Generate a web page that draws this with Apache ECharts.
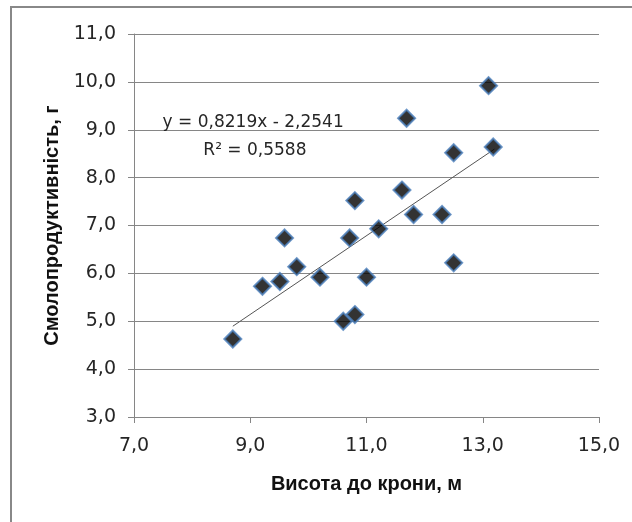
<!DOCTYPE html>
<html>
<head>
<meta charset="utf-8">
<script src="https://cdn.jsdelivr.net/npm/echarts@6/dist/echarts.min.js"></script>
<style>
html,body{margin:0;padding:0;background:#fff;}
#chart{width:632px;height:522px;}
</style>
</head>
<body>
<div id="chart"></div>
<script>
// Data
var xValues = [8.70, 9.21, 9.51, 9.59, 9.80, 10.20, 10.60, 10.71, 10.80, 10.80, 11.00, 11.21, 11.61, 11.69, 11.81, 12.30, 12.50, 12.50, 13.10, 13.18];
var yValues = [4.63, 5.73, 5.83, 6.74, 6.14, 5.92, 5.00, 6.74, 7.52, 5.14, 5.92, 6.93, 7.74, 9.24, 7.23, 7.23, 8.52, 6.22, 9.92, 8.64];
var trendSlope = 0.8219;
var trendIntercept = -2.2541;
var trendR2 = 0.5588;
var trendRangeX = [8.7, 13.2];
var xTicks = [7, 9, 11, 13, 15];
var yTicks = [3, 4, 5, 6, 7, 8, 9, 10, 11];
var xTitle = 'Висота до крони, м';
var yTitle = 'Смолопродуктивність, г';

function fmt(v){ return v.toFixed(1).replace('.', ','); }

var points = xValues.map(function(x, i){ return [x, yValues[i]]; });
var trend = trendRangeX.map(function(x){ return [x, trendSlope * x + trendIntercept]; });

var chart = echarts.init(document.getElementById('chart'), null, {renderer:'canvas'});
var numFont = 'DejaVu Sans';
var titleFont = 'Liberation Sans';
var option = {
  animation: false,
  backgroundColor: '#fff',
  grid: {left: 134, right: 33, top: 34, bottom: 105, containLabel: false},
  xAxis: {
    type: 'value', min: xTicks[0], max: xTicks[xTicks.length-1], interval: 2,
    name: xTitle, nameLocation: 'middle', nameGap: 57,
    nameTextStyle: {fontFamily: titleFont, fontSize: 20, fontWeight: 'bold', color: '#111'},
    axisLine: {show: true, onZero: false, lineStyle: {color: '#868686', width: 1}},
    axisTick: {show: true, inside: false, length: 6, lineStyle: {color: '#868686'}},
    axisLabel: {formatter: fmt, fontFamily: numFont, fontSize: 19, color: '#262626', margin: 20},
    splitLine: {show: false}
  },
  yAxis: {
    type: 'value', min: yTicks[0], max: yTicks[yTicks.length-1], interval: 1,
    name: yTitle, nameLocation: 'middle', nameGap: 70, nameRotate: 90,
    nameTextStyle: {fontFamily: titleFont, fontSize: 20, fontWeight: 'bold', color: '#111'},
    axisLine: {show: true, onZero: false, lineStyle: {color: '#868686', width: 1}},
    axisTick: {show: true, inside: false, length: 6, lineStyle: {color: '#868686'}},
    axisLabel: {formatter: fmt, fontFamily: numFont, fontSize: 19, color: '#262626', margin: 18},
    splitLine: {show: true, lineStyle: {color: '#868686', width: 1}}
  },
  series: [
    {
      type: 'line', data: trend, symbol: 'none', silent: true,
      lineStyle: {color: '#555', width: 1}, z: 2
    },
    {
      type: 'scatter', data: points, symbol: 'diamond', symbolSize: 17,
      itemStyle: {color: '#000', borderColor: '#4a7ebb', borderWidth: 2},
      z: 3
    }
  ]
};
chart.setOption(option);

var p1 = chart.convertToPixel({gridIndex: 0}, [9.05, 9.16]);
var p2 = chart.convertToPixel({gridIndex: 0}, [9.08, 8.57]);
chart.setOption({
  graphic: [
    {type: 'rect', shape: {x: 11, y: 7, width: 800, height: 700}, style: {fill: 'none', stroke: '#888', lineWidth: 2}, z: 10, silent: true},
    {type: 'text', x: p1[0], y: p1[1], style: {text: 'y = ' + trendSlope.toFixed(4).replace('.', ',') + 'x - ' + Math.abs(trendIntercept).toFixed(4).replace('.', ','), fontFamily: numFont, fontSize: 17, fill: '#262626', align: 'center', verticalAlign: 'middle'}, z: 10},
    {type: 'text', x: p2[0], y: p2[1], style: {text: 'R² = ' + trendR2.toFixed(4).replace('.', ','), fontFamily: numFont, fontSize: 17, fill: '#262626', align: 'center', verticalAlign: 'middle'}, z: 10}
  ]
});
</script>
</body>
</html>
